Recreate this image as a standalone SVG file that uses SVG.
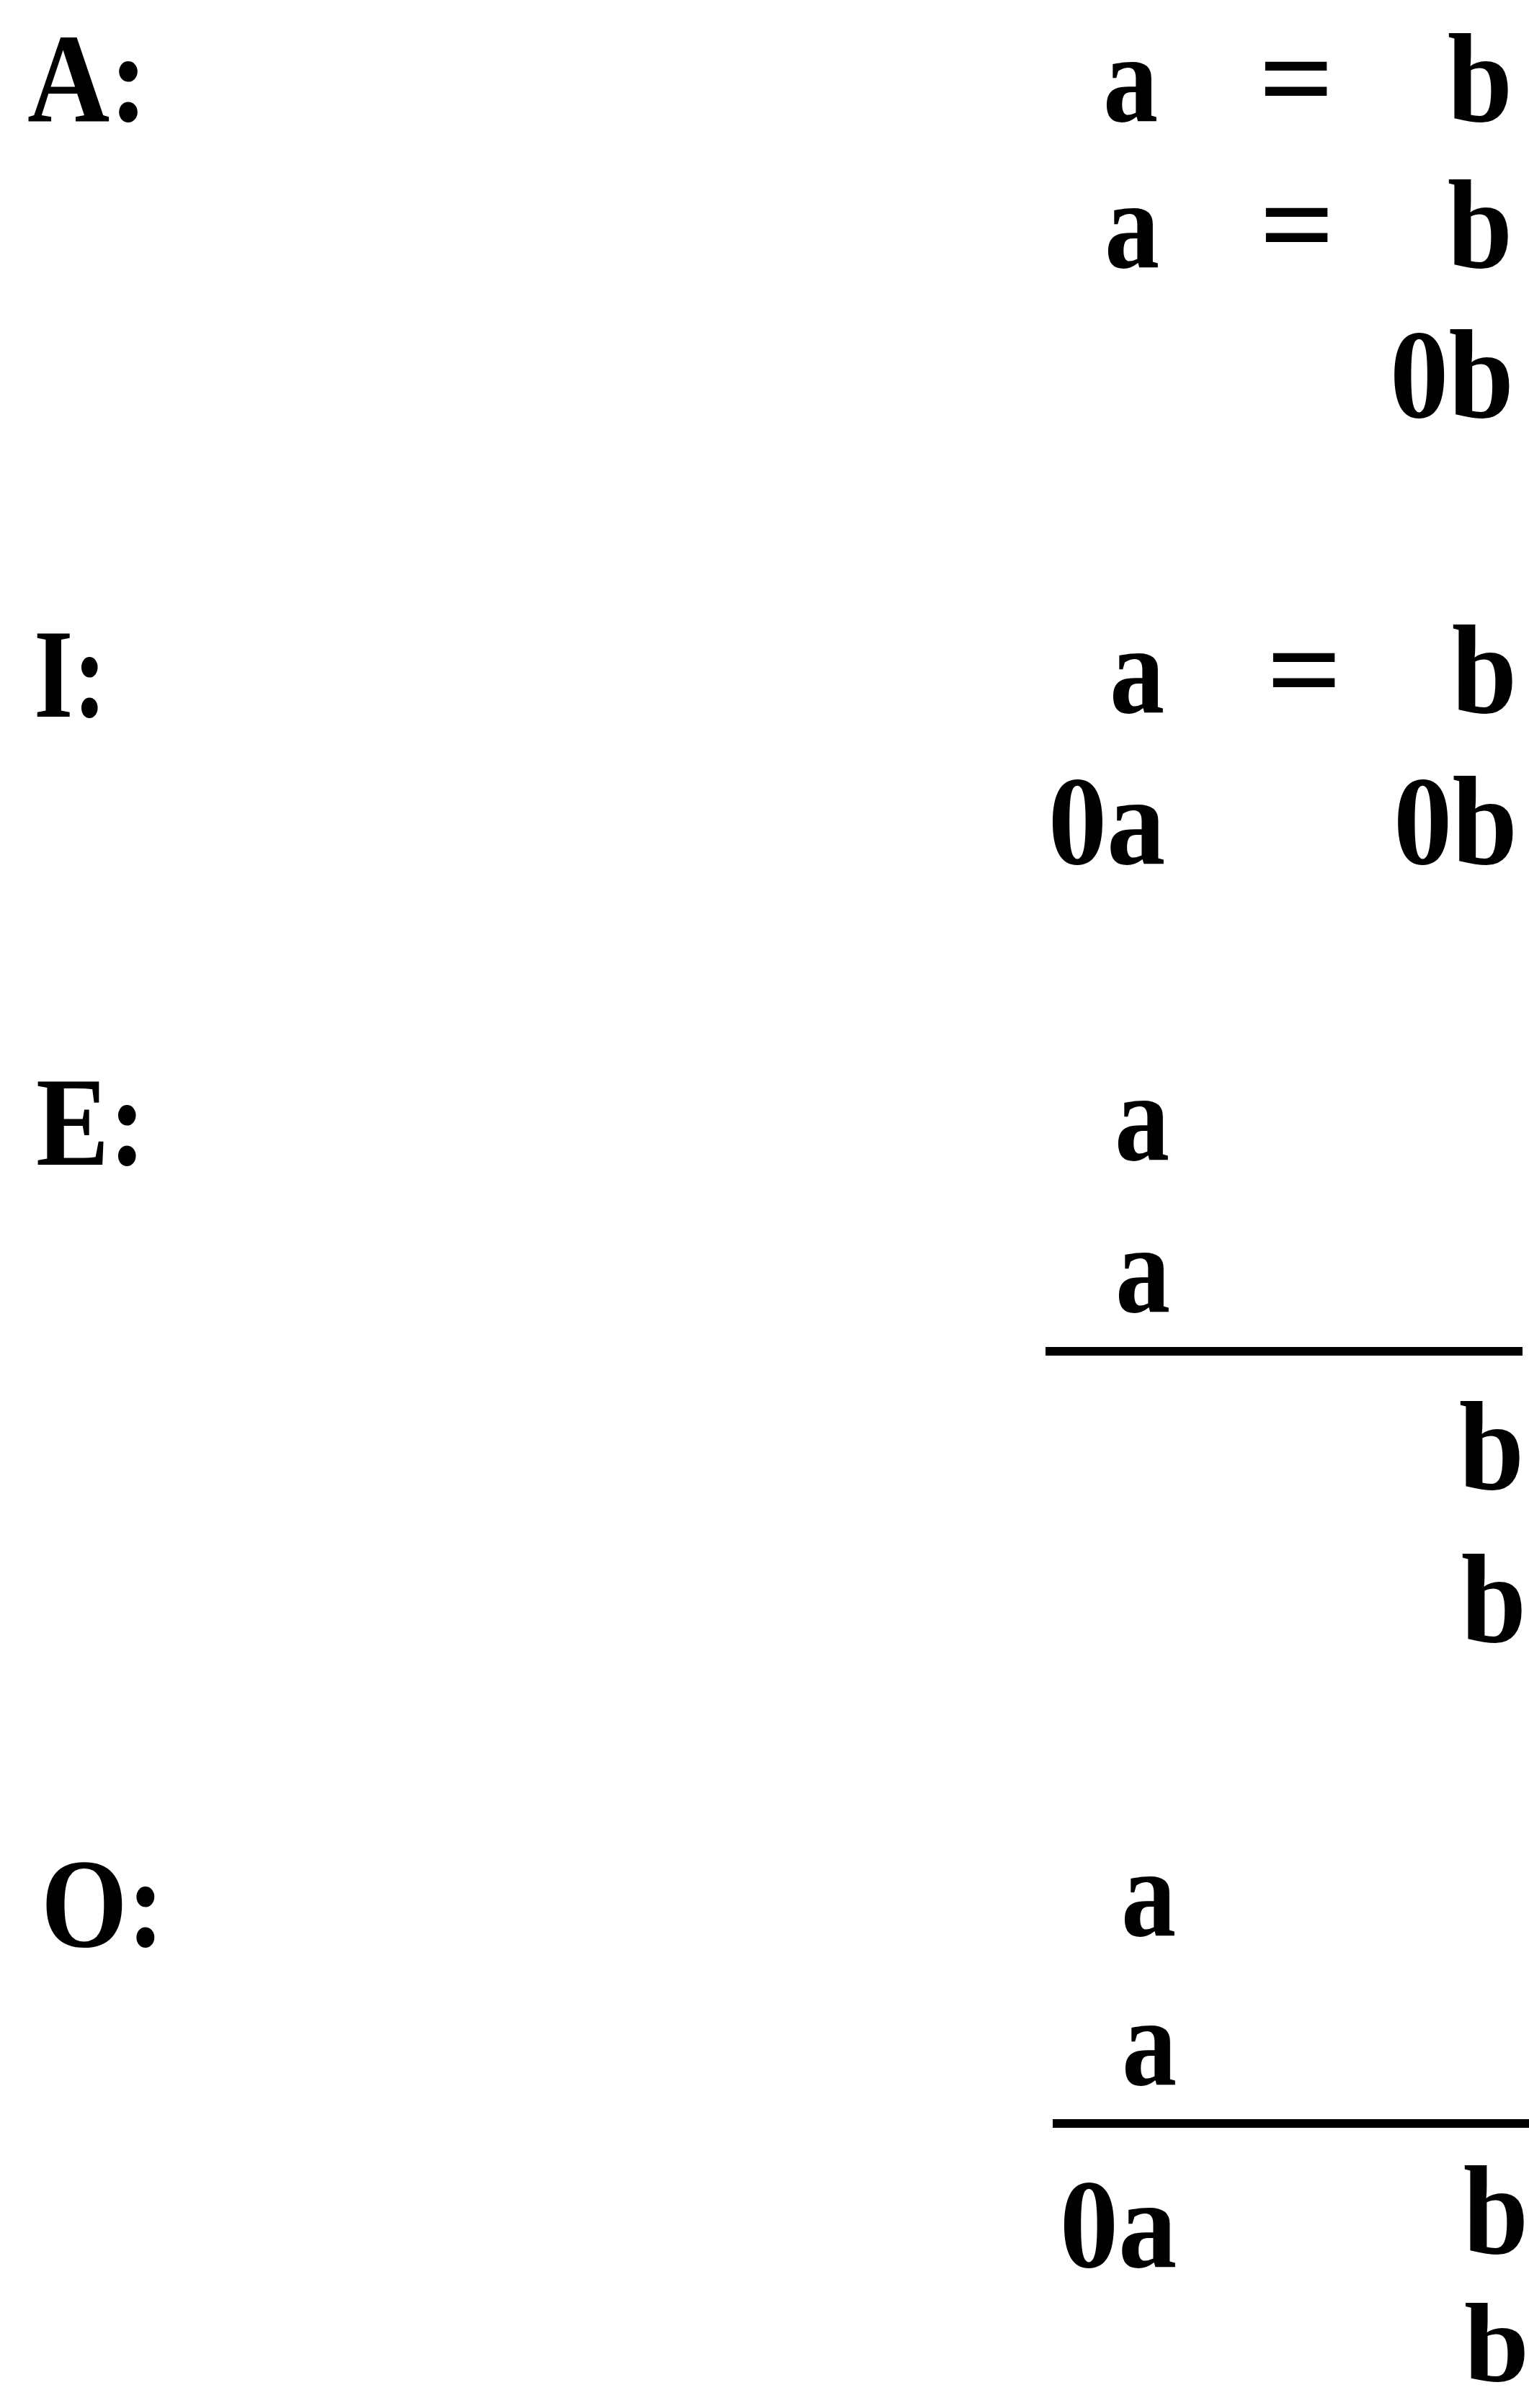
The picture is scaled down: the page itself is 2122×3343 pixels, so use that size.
<svg xmlns="http://www.w3.org/2000/svg" width="2122" height="3343" viewBox="0 0 2122 3343">
<style>
text{font-family:"Liberation Serif","Times New Roman",serif;font-weight:bold;font-size:175px;fill:#000;text-anchor:middle}
.l{text-anchor:start}
.rule{stroke:#000;stroke-width:12;fill:none}
</style>
<rect width="2122" height="3343" fill="#fff"/>
<g id="label-A"><text class="l" x="38" y="168" textLength="167" lengthAdjust="spacingAndGlyphs">A:</text></g>
<g id="label-I"><text class="l" x="47" y="995" textLength="101" lengthAdjust="spacingAndGlyphs">I:</text></g>
<g id="label-E"><text class="l" x="50" y="1617" textLength="152" lengthAdjust="spacingAndGlyphs">E:</text></g>
<g id="label-O"><text class="l" x="57" y="2702" textLength="171" lengthAdjust="spacingAndGlyphs">O:</text></g>

<g id="A-figure">
<text transform="translate(1569 168) scale(0.87 1)">a</text>
<text transform="translate(1799 168) scale(1.05 1)">=</text>
<text transform="translate(2054 168) scale(0.93 1)">b</text>
<text transform="translate(1571 371) scale(0.87 1)">a</text>
<text transform="translate(1800 371) scale(1.05 1)">=</text>
<text transform="translate(2054 371) scale(0.93 1)">b</text>
<text transform="translate(2015 579) scale(0.93 1)">0b</text>
</g>

<g id="I-figure">
<text transform="translate(1578 989) scale(0.87 1)">a</text>
<text transform="translate(1810 989) scale(1.05 1)">=</text>
<text transform="translate(2060 989) scale(0.93 1)">b</text>
<text transform="translate(1536 1199) scale(0.93 1)">0a</text>
<text transform="translate(2020 1199) scale(0.93 1)">0b</text>
</g>

<g id="E-figure">
<text transform="translate(1585 1610) scale(0.87 1)">a</text>
<text transform="translate(1586 1821) scale(0.87 1)">a</text>
<text transform="translate(2070 2067) scale(0.93 1)">b</text>
<text transform="translate(2073 2279) scale(0.93 1)">b</text>
</g>

<g id="O-figure">
<text transform="translate(1594 2687) scale(0.87 1)">a</text>
<text transform="translate(1595 2894) scale(0.87 1)">a</text>
<text transform="translate(1552 3147) scale(0.93 1)">0a</text>
<text transform="translate(2076 3128) scale(0.93 1)">b</text>
<text transform="translate(2077 3306) scale(1.04 1)" style="font-size:156px">b</text>
</g>

<g id="connectors">
<line class="rule" x1="1451" y1="1876" x2="2113" y2="1876"/>
<line class="rule" x1="1461" y1="2948" x2="2122" y2="2948"/>
</g>
</svg>
